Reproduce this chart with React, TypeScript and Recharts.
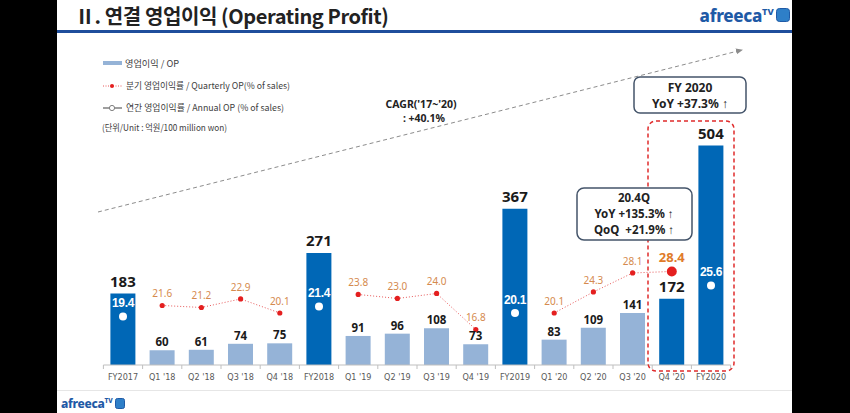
import { ComposedChart, Bar, Line, XAxis, YAxis, Cell, LabelList } from 'recharts'

const categories = [
  'FY2017', "Q1 '18", "Q2 '18", "Q3 '18", "Q4 '18", 'FY2018', "Q1 '19", "Q2 '19",
  "Q3 '19", "Q4 '19", 'FY2019', "Q1 '20", "Q2 '20", "Q3 '20", "Q4 '20", 'FY2020',
]
const opValues = [183, 60, 61, 74, 75, 271, 91, 96, 108, 73, 367, 83, 109, 141, 172, 504]
const quarterlyMargin = [null, 21.6, 21.2, 22.9, 20.1, null, 23.8, 23.0, 24.0, 16.8, null, 20.1, 24.3, 28.1, 28.4, null]
const annualMargin = [19.4, null, null, null, null, 21.4, null, null, null, null, 20.1, null, null, null, null, 25.6]
const highlighted = ["Q4 '20"]

const data = categories.map((c, i) => ({
  name: c,
  op: opValues[i],
  qm: quarterlyMargin[i],
  am: annualMargin[i],
}))

const isAnnual = (name: string) => name.startsWith('FY') || highlighted.includes(name)

const DARK = '#0067b6'
const LIGHT = '#95b3d7'
const KFONT = "'Noto Sans CJK KR', 'Noto Sans', sans-serif"

const BarLabel = (props: any) => {
  const { x, y, width, value, index } = props
  const big = isAnnual(categories[index])
  return (
    <text
      x={x + width / 2}
      y={y - (big ? 7 : 4)}
      textAnchor="middle"
      fontFamily="'Noto Sans', sans-serif"
      fontWeight={700}
      fontSize={big ? 15 : 11.5}
      fill="#1a1a1a"
    >
      {value}
    </text>
  )
}

const QLabel = (props: any) => {
  const { x, y, value, index } = props
  if (value == null) return null
  const last = categories[index] === "Q4 '20"
  return (
    <text
      x={x}
      y={y - (last ? 9 : 8)}
      textAnchor="middle"
      fontFamily="'Noto Sans', sans-serif"
      fontWeight={last ? 700 : 400}
      fontSize={last ? 13 : 10}
      fill={last ? '#e07b2a' : '#d58a4e'}
    >
      {Number(value).toFixed(1)}
    </text>
  )
}

const ALabel = (props: any) => {
  const { x, y, value } = props
  if (value == null) return null
  return (
    <text
      x={x}
      y={y - 9}
      textAnchor="middle"
      fontFamily="'Liberation Sans', sans-serif"
      fontWeight={700}
      fontSize={12}
      letterSpacing={-0.3}
      fill="#ffffff"
    >
      {Number(value).toFixed(1)}
    </text>
  )
}

const QDot = (props: any) => {
  const { cx, cy, index, value } = props
  if (value == null || cx == null) return <g key={index} />
  const last = categories[index] === "Q4 '20"
  return <circle key={index} cx={cx} cy={cy} r={last ? 5 : 2.6} fill="#e41f1f" />
}

const ADot = (props: any) => {
  const { cx, cy, index, value } = props
  if (value == null || cx == null) return <g key={index} />
  return <circle key={index} cx={cx} cy={cy} r={4} fill="#ffffff" />
}

const XTick = (props: any) => {
  const { x, y, payload, index } = props
  const half = 19.6
  return (
    <g>
      <line x1={x - half} x2={x - half} y1={y - 8} y2={y - 4} stroke="#bfbfbf" />
      {index === categories.length - 1 && (
        <line x1={x + half} x2={x + half} y1={y - 8} y2={y - 4} stroke="#bfbfbf" />
      )}
      <text
        x={x}
        y={y + 7}
        textAnchor="middle"
        fontFamily="'Liberation Sans Narrow', 'DejaVu Sans Condensed', sans-serif"
        fontSize={9}
        fill="#595959"
      >
        {payload.value}
      </text>
    </g>
  )
}

function Logo({ size }: { size: number }) {
  return (
    <span style={{ display: 'inline-flex', alignItems: 'flex-start', color: '#1f5aa6' }}>
      <span style={{ fontFamily: "'Noto Sans', sans-serif", fontWeight: 800, fontSize: size, letterSpacing: -0.3 }}>
        afreeca
      </span>
      <span style={{ fontFamily: "'Noto Sans', sans-serif", fontWeight: 800, fontSize: size * 0.55, marginTop: 1 }}>
        TV
      </span>
      <span
        style={{
          width: size * 0.72,
          height: size * 0.72,
          borderRadius: size * 0.2,
          background: '#2e7fc8',
          marginLeft: 2,
          marginTop: size * 0.25,
          border: '1px solid #1f5aa6',
        }}
      />
    </span>
  )
}

const boxText = {
  textAnchor: 'middle' as const,
  fontFamily: "'Noto Sans', sans-serif",
  fontWeight: 700,
  fontSize: 11.5,
  fill: '#222',
}

export default function App() {
  return (
    <div style={{ position: 'absolute', left: 0, top: 0, width: 850, height: 413, background: '#000', overflow: 'hidden' }}>
      <div style={{ position: 'absolute', left: 57, top: 0, width: 735, height: 413, background: '#fff' }} />

      {/* header */}
      <div style={{ position: 'absolute', left: 75, top: 1, fontFamily: KFONT, fontSize: 20, fontWeight: 700, color: '#222', letterSpacing: -0.4 }}>
        Ⅱ. 연결 영업이익 (Operating Profit)
      </div>
      <div style={{ position: 'absolute', right: 60, top: 4 }}>
        <Logo size={17} />
      </div>
      <div style={{ position: 'absolute', left: 57, top: 30, width: 735, height: 3, background: '#1f4e9c' }} />

      {/* footer */}
      <div style={{ position: 'absolute', left: 57, top: 390, width: 735, height: 1, background: '#e6e6e6' }} />
      <div style={{ position: 'absolute', left: 61, top: 394 }}>
        <Logo size={12} />
      </div>

      <ComposedChart
        width={850}
        height={413}
        data={data}
        margin={{ top: 124.4, right: 119.4, bottom: 18, left: 103.4 }}
        style={{ position: 'absolute', left: 0, top: 0 }}
      >
        <XAxis
          dataKey="name"
          height={30}
          tickLine={false}
          axisLine={{ stroke: '#bfbfbf' }}
          tick={<XTick />}
          interval={0}
        />
        <YAxis yAxisId="op" hide domain={[28, 550]} allowDataOverflow />
        <YAxis yAxisId="pct" hide domain={[9.7, 57.8]} allowDataOverflow />
        <Bar yAxisId="op" dataKey="op" barSize={25} isAnimationActive={false}>
          {data.map((d) => (
            <Cell key={d.name} fill={isAnnual(d.name) ? DARK : LIGHT} />
          ))}
          <LabelList dataKey="op" content={<BarLabel />} />
        </Bar>
        <Line
          yAxisId="pct"
          dataKey="qm"
          stroke="#e8595a"
          strokeWidth={1}
          strokeDasharray="1 2"
          dot={<QDot />}
          activeDot={false}
          connectNulls={false}
          isAnimationActive={false}
        >
          <LabelList dataKey="qm" content={<QLabel />} />
        </Line>
        <Line
          yAxisId="pct"
          dataKey="am"
          stroke="none"
          dot={<ADot />}
          activeDot={false}
          isAnimationActive={false}
        >
          <LabelList dataKey="am" content={<ALabel />} />
        </Line>
      </ComposedChart>

      {/* annotations */}
      <svg width={850} height={413} style={{ position: 'absolute', left: 0, top: 0, pointerEvents: 'none' }}>
        <defs>
          <marker id="arr" markerWidth="8" markerHeight="8" refX="6" refY="4" orient="auto">
            <path d="M0,1 L7,4 L0,7 Z" fill="#8c8c8c" />
          </marker>
        </defs>
        <line x1={98} y1={212} x2={742} y2={50} stroke="#8c8c8c" strokeWidth={1} strokeDasharray="4 3" markerEnd="url(#arr)" />
        <text x={421} y={108} textAnchor="middle" fontFamily="'Noto Sans', sans-serif" fontWeight={700} fontSize={10.5} fill="#222">
          CAGR('17~'20)
        </text>
        <text x={424} y={122} textAnchor="middle" fontFamily="'Noto Sans', sans-serif" fontWeight={700} fontSize={10.5} fill="#222">
          : +40.1%
        </text>

        <rect x={648} y={121} width={86} height={250} rx={8} fill="none" stroke="#e02b2b" strokeWidth={1.5} strokeDasharray="4 3" />

        <rect x={634} y={77} width={112} height={36} rx={6} fill="#fff" stroke="#44546a" strokeWidth={1.5} />
        <text x={690} y={92} {...boxText} fontSize={12}>FY 2020</text>
        <text x={690} y={108} {...boxText} fontSize={12}>YoY +37.3% ↑</text>

        <rect x={577} y={188} width={115} height={52} rx={7} fill="#fff" stroke="#44546a" strokeWidth={1.5} />
        <text x={634} y={202} {...boxText}>20.4Q</text>
        <text x={634} y={218} {...boxText}>YoY +135.3% ↑</text>
        <text x={634} y={234} {...boxText} xmlSpace="preserve">QoQ  +21.9% ↑</text>

        {/* legend */}
        <g fontFamily={KFONT} fontSize={9} fill="#404040">
          <rect x={103} y={61} width={19} height={4} fill={LIGHT} />
          <text x={125} y={67} textLength={54} lengthAdjust="spacingAndGlyphs">영업이익 / OP</text>
          <line x1={103} x2={122} y1={86} y2={86} stroke="#e8595a" strokeDasharray="1 1.5" />
          <circle cx={112} cy={86} r={2} fill="#e41f1f" />
          <text x={126} y={89} textLength={164} lengthAdjust="spacingAndGlyphs">분기 영업이익률 / Quarterly OP(% of sales)</text>
          <line x1={103} x2={122} y1={108} y2={108} stroke="#7f7f7f" strokeWidth={1.5} />
          <circle cx={112} cy={108} r={2.6} fill="#fff" stroke="#7f7f7f" />
          <text x={126} y={111} textLength={158} lengthAdjust="spacingAndGlyphs">연간 영업이익률 / Annual OP (% of sales)</text>
          <text x={102} y={131} textLength={125} lengthAdjust="spacingAndGlyphs">(단위/Unit : 억원/100 million won)</text>
        </g>
      </svg>
    </div>
  )
}
